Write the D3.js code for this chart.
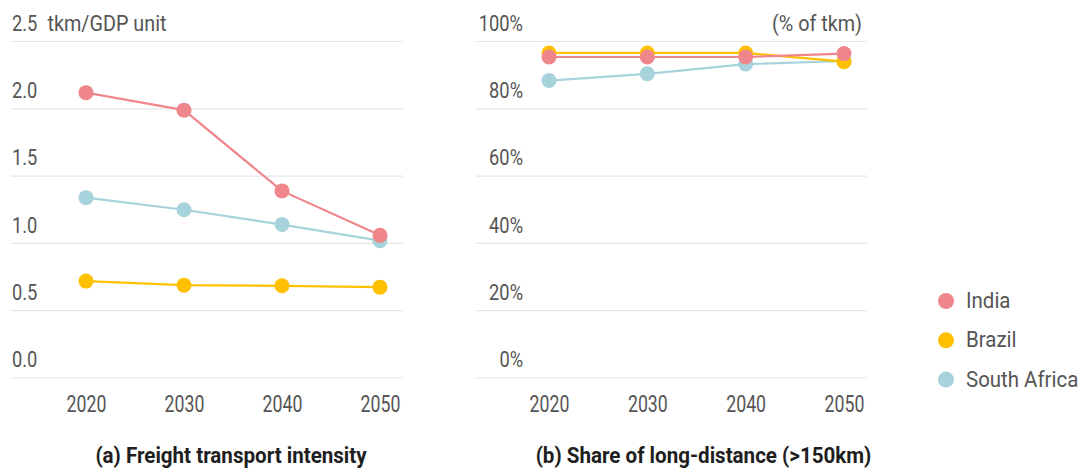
<!DOCTYPE html>
<html>
<head>
<meta charset="utf-8">
<script src="https://cdn.jsdelivr.net/npm/d3@7"></script>
<style>
  html, body { margin: 0; padding: 0; background: #fff; }
  svg text { font-family: Roboto, "Noto Sans", sans-serif; }
</style>
</head>
<body>
<svg id="chart" width="1081" height="470"></svg>
<script>
// Years on the horizontal axis
const years = [2020, 2030, 2040, 2050];

// Panel (a): freight transport intensity, tkm per GDP unit
const intensityIndia = [2.12, 1.99, 1.39, 1.06];
const intensityBrazil = [0.72, 0.69, 0.685, 0.675];
const intensitySouthAfrica = [1.34, 1.25, 1.14, 1.02];

// Panel (b): share of long-distance freight (>150km), % of tkm
const shareIndia = [95.4, 95.4, 95.4, 96.4];
const shareBrazil = [96.6, 96.6, 96.6, 94.0];
const shareSouthAfrica = [88.4, 90.4, 93.3, 94.2];

// Tick labels
const intensityTicks = [0, 0.5, 1.0, 1.5, 2.0, 2.5];
const shareTicks = [0, 20, 40, 60, 80, 100];

// Series names and colours (drawn bottom to top: South Africa, Brazil, India)
const countries = ["India", "Brazil", "South Africa"];
const colors = { "India": "#ef868c", "Brazil": "#ffc000", "South Africa": "#a6d3dc" };

const svg = d3.select("#chart");
const textColor = "#555555";
const gridColor = "#e6e6e6";

// Narrow the glyphs horizontally around the text anchor point (condensed look)
function condense(sel, sx) {
  sel.each(function () {
    const t = d3.select(this);
    const x = +t.attr("x") || 0, y = +t.attr("y") || 0;
    t.attr("x", 0).attr("y", 0)
      .attr("transform", `translate(${x},${y}) scale(${sx},1)`);
  });
}

function panel(cfg) {
  const g = svg.append("g");
  const x = d3.scaleLinear().domain([2020, 2050]).range(cfg.xRange);
  const y = d3.scaleLinear().domain(cfg.yDomain).range([378, 41.5]);

  // horizontal gridlines
  g.append("g").selectAll("line").data(cfg.ticks).join("line")
    .attr("x1", cfg.gridRange[0]).attr("x2", cfg.gridRange[1])
    .attr("y1", d => y(d)).attr("y2", d => y(d))
    .attr("stroke", gridColor).attr("stroke-width", 1.2);

  // y axis labels sitting above each gridline
  const yAxis = d3.axisLeft(y).tickValues(cfg.ticks).tickFormat(cfg.fmt)
    .tickSize(0).tickPadding(0);
  const ya = g.append("g").attr("transform", `translate(${cfg.labelRight},0)`).call(yAxis);
  ya.select(".domain").remove();
  ya.selectAll("text").attr("dy", null).attr("x", 0).attr("y", -11.3)
    .attr("fill", textColor).style("font-size", "22px");
  condense(ya.selectAll("text"), 0.83);

  // x axis labels
  const xAxis = d3.axisBottom(x).tickValues(years).tickFormat(d3.format("d"))
    .tickSize(0).tickPadding(0);
  const xa = g.append("g").attr("transform", "translate(0,411.7)").call(xAxis);
  xa.select(".domain").remove();
  xa.selectAll("text").attr("dy", null).attr("y", 0)
    .attr("fill", textColor).style("font-size", "23px");
  condense(xa.selectAll("text"), 0.77);

  // series, drawn bottom to top
  const order = ["South Africa", "Brazil", "India"];
  const line = d3.line().x(d => x(d.year)).y(d => y(d.value));
  order.forEach(name => {
    const pts = years.map((yr, i) => ({ year: yr, value: cfg.series[name][i] }));
    const s = g.append("g");
    s.append("path").datum(pts).attr("d", line)
      .attr("fill", "none").attr("stroke", colors[name]).attr("stroke-width", 2.2);
    s.selectAll("circle").data(pts).join("circle")
      .attr("cx", d => x(d.year)).attr("cy", d => y(d.value)).attr("r", 7.5)
      .attr("fill", colors[name]);
  });

  // caption
  const cap = svg.append("text").attr("x", cfg.captionX).attr("y", 463)
    .attr("text-anchor", "middle").attr("fill", "#1e1e1e")
    .style("font-size", "22.5px").style("font-weight", "700")
    .text(cfg.caption);
  condense(cap, 0.915);
}

panel({
  xRange: [86, 380],
  yDomain: [0, 2.5],
  ticks: intensityTicks,
  fmt: d3.format(".1f"),
  gridRange: [11, 403],
  labelRight: 37.3,
  series: { "India": intensityIndia, "Brazil": intensityBrazil, "South Africa": intensitySouthAfrica },
  caption: "(a) Freight transport intensity",
  captionX: 231
});

panel({
  xRange: [549, 844],
  yDomain: [0, 100],
  ticks: shareTicks,
  fmt: d => d + "%",
  gridRange: [476, 867],
  labelRight: 523,
  series: { "India": shareIndia, "Brazil": shareBrazil, "South Africa": shareSouthAfrica },
  caption: "(b) Share of long-distance (>150km)",
  captionX: 703.5
});

// unit labels
const unitA = svg.append("text").attr("x", 47.5).attr("y", 30.5).attr("fill", textColor)
  .style("font-size", "22px").text("tkm/GDP unit");
condense(unitA, 0.9);
const unitB = svg.append("text").attr("x", 862).attr("y", 30.5).attr("text-anchor", "end")
  .attr("fill", textColor).style("font-size", "22px").text("(% of tkm)");
condense(unitB, 0.9);

// legend
const legend = svg.append("g").selectAll("g").data(countries).join("g")
  .attr("transform", (d, i) => `translate(946,${301 + i * 39.3})`);
legend.append("circle").attr("r", 8).attr("fill", d => colors[d]);
const legendText = legend.append("text").attr("x", 20).attr("y", 7).attr("fill", textColor)
  .style("font-size", "22px").text(d => d);
condense(legendText, 0.93);
</script>
</body>
</html>
